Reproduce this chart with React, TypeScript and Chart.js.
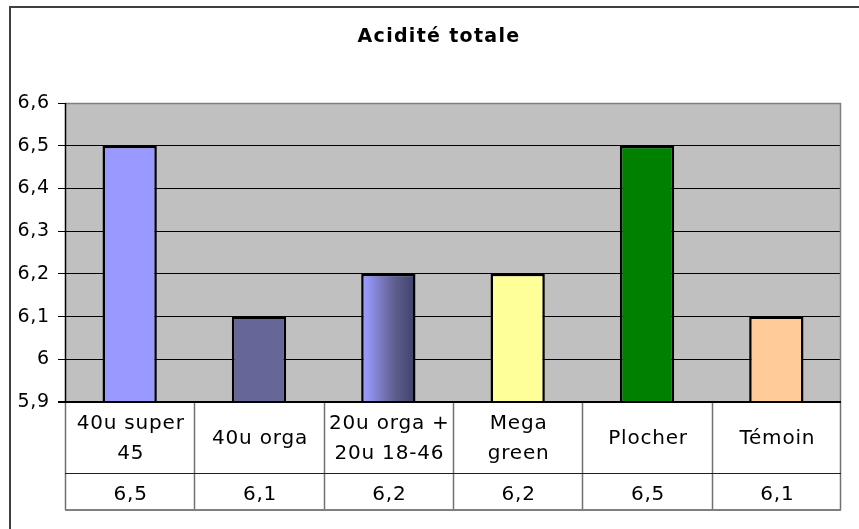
import React, { useEffect, useRef } from "react";
import { Chart, registerables } from "chart.js";

Chart.register(...registerables);

const TITLE = "Acidité totale";
const categories: string[][] = [
  ["40u super", "45"],
  ["40u orga"],
  ["20u orga +", "20u 18-46"],
  ["Mega", "green"],
  ["Plocher"],
  ["Témoin"],
];
const values: number[] = [6.5, 6.1, 6.2, 6.2, 6.5, 6.1];
const barColors: string[] = ["#9999FF", "#666699", "GRADIENT", "#FFFF99", "#008000", "#FFCC99"];
const yMin = 5.9;
const yMax = 6.6;
const yStep = 0.1;

const FONT = "DejaVu Sans";
const fmt = (v: number) => String(Number(v.toFixed(1))).replace(".", ",");

export default function App() {
  const ref = useRef<HTMLCanvasElement>(null);
  useEffect(() => {
    if (!ref.current) return;
    Chart.defaults.font.family = FONT;
    const BAR_PCT = 0.42;

    const framePlugin = {
      id: "frame",
      beforeUpdate(chart: any) {
        chart.ctx.letterSpacing = "0.8px";
      },
      beforeDraw(chart: any) {
        const ctx = chart.ctx;
        ctx.save();
        ctx.fillStyle = "#ffffff";
        ctx.fillRect(0, 0, chart.width, chart.height);
        ctx.strokeStyle = "#404040";
        ctx.lineWidth = 2;
        ctx.beginPath();
        ctx.moveTo(10, 6);
        ctx.lineTo(10, chart.height);
        ctx.stroke();
        ctx.beginPath();
        ctx.moveTo(9, 7);
        ctx.lineTo(chart.width, 7);
        ctx.stroke();
        const a = chart.chartArea;
        ctx.fillStyle = "#C0C0C0";
        ctx.fillRect(a.left, a.top, a.right - a.left, a.bottom - a.top);
        ctx.fillStyle = "#000000";
        ctx.font = `bold 19px "${FONT}"`;
        ctx.letterSpacing = "1.3px";
        ctx.textAlign = "center";
        ctx.textBaseline = "middle";
        ctx.fillText(TITLE, 439, 37);
        ctx.restore();
        ctx.letterSpacing = "0.8px";
      },
    };

    const tablePlugin = {
      id: "dataTable",
      afterDraw(chart: any) {
        const ctx = chart.ctx;
        const a = chart.chartArea;
        const xs = chart.scales.x;
        const n = categories.length;
        const catW = (a.right - a.left) / n;
        const r0 = a.bottom;
        const r1 = r0 + 71;
        const r2 = r1 + 37;
        ctx.save();
        ctx.strokeStyle = "#808080";
        ctx.lineWidth = 1.5;
        ctx.beginPath();
        ctx.moveTo(a.left, a.top + 0.5);
        ctx.lineTo(a.right - 0.5, a.top + 0.5);
        ctx.lineTo(a.right - 0.5, a.bottom);
        ctx.stroke();
        ctx.strokeStyle = "#707070";
        ctx.lineWidth = 1.5;
        for (let i = 0; i <= n; i++) {
          const x = Math.round(a.left + i * catW) + (i === n ? -0.5 : 0.5);
          ctx.beginPath();
          ctx.moveTo(x, r0);
          ctx.lineTo(x, r2);
          ctx.stroke();
        }
        ctx.strokeStyle = "#202020";
        ctx.lineWidth = 1;
        ctx.beginPath();
        ctx.moveTo(a.left, r1 + 0.5);
        ctx.lineTo(a.right, r1 + 0.5);
        ctx.stroke();
        ctx.strokeStyle = "#808080";
        ctx.lineWidth = 2;
        ctx.beginPath();
        ctx.moveTo(a.left, r2);
        ctx.lineTo(a.right, r2);
        ctx.stroke();
        ctx.strokeStyle = "#000000";
        ctx.lineWidth = 2;
        ctx.beginPath();
        ctx.moveTo(a.left - 7, a.bottom);
        ctx.lineTo(a.right, a.bottom);
        ctx.stroke();
        ctx.lineWidth = 1.5;
        ctx.beginPath();
        ctx.moveTo(a.left + 0.5, a.top);
        ctx.lineTo(a.left + 0.5, a.bottom);
        ctx.stroke();
        ctx.fillStyle = "#000000";
        ctx.font = `20px "${FONT}"`;
        ctx.letterSpacing = "0.8px";
        ctx.textAlign = "center";
        ctx.textBaseline = "middle";
        const mid1 = (r0 + r1) / 2 + 1;
        const lh = 30;
        categories.forEach((lines, i) => {
          const cx = xs.getPixelForValue(i) + 1;
          const start = mid1 - ((lines.length - 1) * lh) / 2;
          lines.forEach((t, j) => ctx.fillText(t, cx, start + j * lh));
          ctx.fillText(fmt(values[i]), cx, (r1 + r2) / 2 + 3);
        });
        ctx.restore();
      },
    };

    const chart = new Chart(ref.current, {
      type: "bar",
      data: {
        labels: categories.map((c) => c.join(" ")),
        datasets: [
          {
            data: values,
            backgroundColor: (c: any) => {
              const col = barColors[c.dataIndex];
              if (col !== "GRADIENT") return col;
              const ch = c.chart;
              const xs = ch.scales.x;
              if (!xs || !ch.chartArea) return "#9999FF";
              const catW = (ch.chartArea.right - ch.chartArea.left) / categories.length;
              const cx = xs.getPixelForValue(c.dataIndex);
              const w = catW * BAR_PCT;
              const g = ch.ctx.createLinearGradient(cx - w / 2, 0, cx + w / 2, 0);
              g.addColorStop(0, "#9C9CFF");
              g.addColorStop(0.12, "#9595F5");
              g.addColorStop(0.6, "#606090");
              g.addColorStop(1, "#40406C");
              return g;
            },
            borderColor: "#000000",
            borderWidth: 2.5,
            barPercentage: BAR_PCT,
            categoryPercentage: 1,
          },
        ],
      },
      options: {
        responsive: false,
        animation: false,
        layout: { padding: { left: 0, top: 103, right: 18, bottom: 127 } },
        plugins: {
          legend: { display: false },
          tooltip: { enabled: false },
          title: { display: false },
        },
        scales: {
          x: { display: false, offset: true },
          y: {
            min: yMin,
            max: yMax,
            afterFit: (s: any) => {
              s.width = 65;
            },
            ticks: {
              stepSize: yStep,
              color: "#000000",
              font: { family: FONT, size: 19 },
              padding: 8,
              callback: (v: any) => fmt(Number(v)),
            },
            grid: {
              color: "#000000",
              lineWidth: 1,
              tickLength: 7,
              tickColor: "#000000",
            },
            border: { display: false },
          },
        },
      },
      plugins: [framePlugin, tablePlugin],
    } as any);
    return () => chart.destroy();
  }, []);

  return (
    <div style={{ position: "fixed", left: 0, top: 0, width: 859, height: 529, background: "#fff" }}>
      <canvas ref={ref} width={859} height={529} style={{ display: "block" }} />
    </div>
  );
}
